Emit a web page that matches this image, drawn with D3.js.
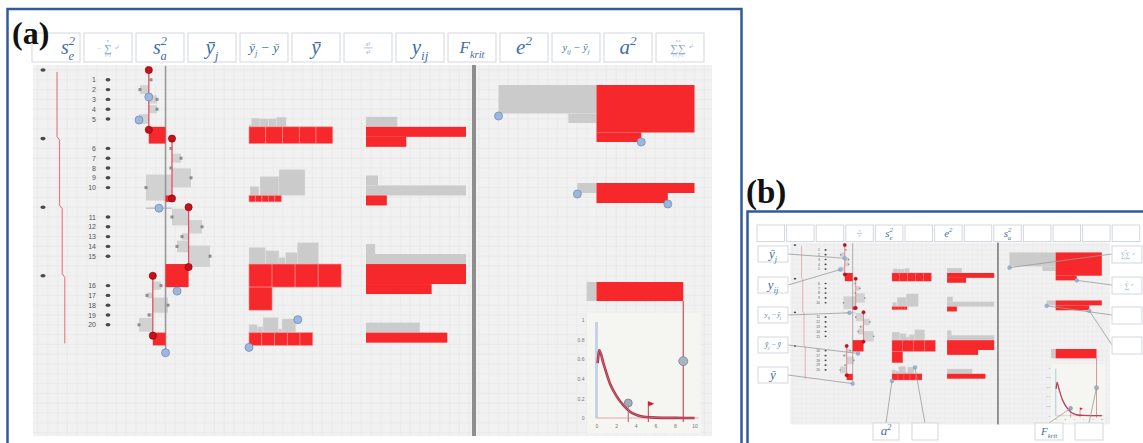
<!DOCTYPE html>
<html><head><meta charset="utf-8">
<script src="https://cdn.jsdelivr.net/npm/d3@7"></script>
<style>body{margin:0;background:#fff}svg{display:block}</style>
</head><body>
<svg id="c" width="1143" height="443"></svg>
<script>
// ---------------- data ----------------
const headerA = ["se2","sum1","sa2","ybarj","ybarjmybar","ybar","frac","yij","fkrit","e2","yijmybarj","a2","sumsum"];
const headerB = ["","","","frac","se2","","e2","","sa2","","","",""];
const sideLeftB = ["ybarj","yij","yijmybarj","ybarjmybar","ybar"];
const sideRightB = ["sumsum","sum1","",""];
const bottomB = ["a2","","fkrit",""];
const itemLabels = ["1","2","3","4","5","6","7","8","9","10","11","12","13","14","15","16","17","18","19","20"];
const obsG1 = [43, 37.5, 46, 46, 37];
const obsG2 = [53, 58, 53, 63, 40.5];
const obsG3 = [53.5, 68.5, 58.5, 56, 72.5];
const obsG4 = [48, 41, 51.5, 42, 37];
const fTicksX = [0, 2, 4, 6, 8, 10];
const fTicksY = [0, 0.2, 0.4, 0.6, 0.8, 1];
const fCurveX = [0.12, 0.29, 0.7, 1.38, 2.06, 2.74, 3.42, 4.1, 4.78, 6, 8, 10];
const fCurveY = [0.56, 0.69, 0.56, 0.35, 0.22, 0.13, 0.064, 0.03, 0.013, 0.004, 0.001, 0];
const fCrit05 = 3.24, fCrit01 = 5.29;
const fHandleY = 0.58, fCritMarkY = 0.153, fFlagY = 0.17;

// ---------------- styles ----------------
const SERIF = "'Liberation Serif','DejaVu Serif',serif";
const SANS = "'Liberation Sans','DejaVu Sans',sans-serif";
const RED = "#f7282b", REDLINE = "#e4505e", GRAY = "#cbcbcb", DOT = "#c8101c";
const LBLC = "#3f6ea8", LBLC2 = "#7fa0c8", BORDER = "#2f5b9a", BOXS = "#d3d8df";

const svg = d3.select("#c");

// ---------------- scales & derived ----------------
const xL = d3.scaleLinear().domain([0, 100]).range([65, 265]);
const yL = d3.scaleLinear().domain([0, 28]).range([70, 344.4]);
const xF = d3.scaleLinear().domain([0, 10]).range([596.5, 694.5]);
const yF = d3.scaleLinear().domain([0, 1]).range([418, 320]);

const obs = [obsG1, obsG2, obsG3, obsG4];
const grand = d3.mean(obs.flat());
const gx = xL(grand);
const groups = obs.map((vals, j) => {
  const m = d3.mean(vals), xm = xL(m);
  const items = vals.map((v, i) => ({v, i, n: j * 5 + i, y: yL(7 * j + 1 + i), x: xL(v), s: Math.abs(xL(v) - xm)}));
  const d = Math.abs(xm - gx);
  return {j, xm, top: yL(7 * j), base: yL(7 * j + 5.8), items, d, n: vals.length,
    ssE: d3.sum(items, it => it.s * it.s), ssA: vals.length * d * d};
});
const SSA = d3.sum(groups, g => g.ssA), SSE = d3.sum(groups, g => g.ssE);
const dfA = groups.length - 1, dfE = obs.flat().length - groups.length;
const MSA = SSA / dfA, MSE = SSE / dfE, Fval = MSA / MSE;

function wrapRects(area, x0, y0, W, H, dx, dy) {
  const full = Math.floor(area / (W * H));
  const rem = area - full * W * H;
  const out = [];
  if (full > 0) out.push({x: dx > 0 ? x0 : x0 - W, y: dy > 0 ? y0 : y0 - full * H, w: W, h: full * H});
  if (rem > 0.5) { const rw = rem / H; out.push({x: dx > 0 ? x0 : x0 - rw, y: dy > 0 ? y0 + full * H : y0 - (full + 1) * H, w: rw, h: H}); }
  return out;
}
function rects(g, data, fill, stroke, sw) {
  g.selectAll(null).data(data).join("rect")
    .attr("x", d => d.x).attr("y", d => d.y).attr("width", d => d.w).attr("height", d => d.h)
    .attr("fill", fill).attr("stroke", stroke || "none").attr("stroke-width", sw || 0);
}

// ---------------- labels ----------------
const LBL = {
  se2: [["s","n"],["2","sup"],["e","sub",-0.32]],
  sa2: [["s","n"],["2","sup"],["a","sub",-0.32]],
  ybarj: [["ȳ","n"],["j","sub"]],
  ybarjmybar: [["ȳ","n"],["j","sub"],[" − ȳ","n"]],
  ybar: [["ȳ","n"]],
  yij: [["y","n"],["ij","sub"]],
  fkrit: [["F","n"],["krit","sub"]],
  e2: [["e","n"],["2","sup"]],
  yijmybarj: [["y","n"],["ij","sub"],[" − ȳ","n"],["j","sub"]],
  a2: [["a","n"],["2","sup"]]
};
function txt(g, x, y, s, fs, col, anchor, italic) {
  return g.append("text").attr("x", x).attr("y", y).attr("font-size", fs).attr("fill", col)
    .attr("text-anchor", anchor || "middle").attr("font-family", SERIF)
    .attr("font-style", italic === false ? "normal" : "italic").text(s);
}
function drawLabel(g, id, cx, cy, fs) {
  if (!id) return;
  if (id === "sum1") {
    txt(g, cx, cy + 0.22 * fs, "∑", 0.55 * fs, LBLC2, "middle", false);
    txt(g, cx, cy - 0.3 * fs, "n", 0.2 * fs, LBLC2);
    txt(g, cx, cy + 0.45 * fs, "i=1", 0.2 * fs, LBLC2);
    txt(g, cx - 0.45 * fs, cy + 0.1 * fs, "−", 0.3 * fs, LBLC2);
    txt(g, cx + 0.45 * fs, cy + 0.05 * fs, "e²", 0.25 * fs, LBLC2);
    return;
  }
  if (id === "sumsum") {
    txt(g, cx - 0.1 * fs, cy + 0.22 * fs, "∑∑", 0.55 * fs, LBLC2, "middle", false);
    txt(g, cx - 0.1 * fs, cy - 0.3 * fs, "n  a", 0.18 * fs, LBLC2);
    txt(g, cx - 0.1 * fs, cy + 0.46 * fs, "i=1 j=1", 0.17 * fs, LBLC2);
    txt(g, cx + 0.55 * fs, cy, "e²", 0.25 * fs, LBLC2);
    return;
  }
  if (id === "frac") {
    txt(g, cx, cy - 0.08 * fs, "s²", 0.3 * fs, LBLC2);
    g.append("line").attr("x1", cx - 0.22 * fs).attr("x2", cx + 0.22 * fs).attr("y1", cy + 0.02 * fs).attr("y2", cy + 0.02 * fs)
      .attr("stroke", LBLC2).attr("stroke-width", 0.6);
    txt(g, cx, cy + 0.3 * fs, "s²", 0.3 * fs, LBLC2);
    return;
  }
  const t = g.append("text").attr("x", cx).attr("y", cy + fs * 0.3).attr("text-anchor", "middle")
    .attr("font-family", SERIF).attr("font-style", "italic").attr("font-size", fs).attr("fill", LBLC);
  let cur = 0;
  LBL[id].forEach(([s, kind, dxEm]) => {
    const target = kind === "sub" ? 0.3 * fs : kind === "sup" ? -0.42 * fs : 0;
    const ts = t.append("tspan").text(s).attr("dy", target - cur);
    if (kind !== "n") ts.attr("font-size", fs * 0.62);
    if (dxEm) ts.attr("dx", dxEm * fs);
    cur = target;
  });
}
function box(g, x, y, w, h, id, fs, shift) {
  g.append("rect").attr("x", x).attr("y", y).attr("width", w).attr("height", h)
    .attr("fill", "#fff").attr("stroke", BOXS).attr("stroke-width", 1);
  drawLabel(g, id, x + w / 2 + (shift || 0), y + h / 2, fs);
}
const LBLSIZE = {se2: 20, sa2: 20, ybarj: 21, ybarjmybar: 13.5, ybar: 21, yij: 21, fkrit: 17, e2: 21, yijmybarj: 10.5, a2: 21, sum1: 20, sumsum: 20, frac: 20};

// ---------------- main content (panel a coordinates) ----------------
function handle(g, x, y, r) {
  g.append("circle").attr("cx", x).attr("cy", y).attr("r", r || 4)
    .attr("fill", "#9db8dc").attr("stroke", "#6f8fbf").attr("stroke-width", 0.8);
}
function drawContent(g) {
  g.append("rect").attr("x", 33).attr("y", 65).attr("width", 679).attr("height", 371).attr("fill", "#f1f1f1");
  const grid = g.append("g").attr("stroke", "#e6e6e6").attr("stroke-width", 0.6);
  grid.selectAll(null).data(d3.range(38, 712, 9.8)).join("line")
    .attr("x1", d => d).attr("x2", d => d).attr("y1", 65).attr("y2", 436);
  grid.selectAll(null).data(d3.range(70, 436, 9.8)).join("line")
    .attr("x1", 33).attr("x2", 712).attr("y1", d => d).attr("y2", d => d);
  g.append("rect").attr("x", 472).attr("y", 65).attr("width", 4).attr("height", 371).attr("fill", "#8e8e8e");

  // left structure
  g.selectAll(null).data(groups).join("ellipse").attr("cx", 43).attr("cy", d => d.top)
    .attr("rx", 2.6).attr("ry", 1.8).attr("fill", "#4a4a4a");
  const bpts = [];
  groups.forEach((gr, j) => {
    const x = 57 + 2.6 * j;
    bpts.push([x, j === 0 ? yL(0) + 2 : yL(7 * j) + 1.5]);
    bpts.push([x, j === 3 ? yL(27.9) : yL(7 * j + 6.8)]);
  });
  g.append("path").attr("d", d3.line()(bpts)).attr("fill", "none").attr("stroke", "#e36a78").attr("stroke-width", 1);
  const allItems = groups.flatMap(gr => gr.items);
  g.selectAll(null).data(allItems).join("text").attr("x", 96).attr("y", d => d.y + 2.5)
    .attr("text-anchor", "end").attr("font-family", SANS).attr("font-size", 7).attr("fill", "#555")
    .text(d => itemLabels[d.n]);
  g.selectAll(null).data(allItems).join("ellipse").attr("cx", 108).attr("cy", d => d.y)
    .attr("rx", 2.4).attr("ry", 1.7).attr("fill", "#4a4a4a");

  // deviation squares (gray)
  g.selectAll(null).data(allItems).join("rect")
    .attr("x", d => Math.min(d.x, groups[Math.floor(d.n / 5)].xm)).attr("y", d => d.y - d.s / 2)
    .attr("width", d => d.s).attr("height", d => d.s).attr("fill", GRAY).attr("opacity", 0.8);
  const g2 = groups[1];
  g.append("line").attr("x1", g2.items[4].x).attr("x2", g2.xm).attr("y1", yL(14.1)).attr("y2", yL(14.1))
    .attr("stroke", "#c4c4c4").attr("stroke-width", 1.5);
  // grand mean line
  g.append("line").attr("x1", gx).attr("x2", gx).attr("y1", yL(-0.4)).attr("y2", yL(28.85))
    .attr("stroke", "#9a9a9a").attr("stroke-width", 1.6);
  // group mean squares (red)
  g.selectAll(null).data(groups).join("rect")
    .attr("x", d => Math.min(d.xm, gx)).attr("y", d => d.base).attr("width", d => d.d).attr("height", d => d.d).attr("fill", RED);
  g.selectAll(null).data(groups).join("line")
    .attr("x1", d => d.xm).attr("x2", d => d.xm).attr("y1", d => d.top).attr("y2", d => d.base)
    .attr("stroke", REDLINE).attr("stroke-width", 1.3);
  g.selectAll(null).data(allItems).join("rect")
    .attr("x", d => d.x - 1.5).attr("y", d => d.y - 1.5).attr("width", 3).attr("height", 3).attr("fill", "#8d8d8d");
  const dots = groups.flatMap(d => [[d.xm, d.top], [d.xm, d.base + 3]]);
  g.selectAll(null).data(dots).join("circle").attr("cx", d => d[0]).attr("cy", d => d[1]).attr("r", 3.6)
    .attr("fill", DOT).attr("stroke", "#7a0000").attr("stroke-width", 0.6);

  // column 2: squares
  const c2 = 249;
  groups.forEach(gr => {
    let cum = 0;
    const gs = gr.items.map(it => { const r = {x: c2 + cum, y: gr.base - it.s, w: it.s, h: it.s}; cum += it.s; return r; });
    rects(g, gs, GRAY, "#e6e6e6", 0.4);
    const per = Math.max(1, Math.floor(100 / gr.d));
    const rs = d3.range(gr.n).map(k => ({x: c2 + (k % per) * gr.d, y: gr.base + Math.floor(k / per) * gr.d, w: gr.d, h: gr.d}));
    rects(g, rs, RED, "#ff8f8f", 0.6);
    gr.c2w = cum;
  });
  // column 3: bars
  const c3 = 366;
  groups.forEach(gr => {
    rects(g, wrapRects(gr.ssE, c3, gr.base, 100, 10, 1, -1), GRAY);
    rects(g, wrapRects(gr.ssA, c3, gr.base, 100, 10, 1, 1), RED);
  });

  // right section
  const x0 = xF(0), W = xF(10) - xF(0);
  const tg = wrapRects(SSE, x0, 85, W, 9.5, -1, 1), tr = wrapRects(SSA, x0, 85, W, 9.5, 1, 1);
  rects(g, tg, GRAY); rects(g, tr, RED);
  const mg = wrapRects(MSE, x0, 183, W, 10, -1, 1), mr = wrapRects(MSA, x0, 183, W, 10, 1, 1);
  rects(g, mg, GRAY); rects(g, mr, RED);
  rects(g, [{x: xF(-1), y: 282, w: xF(0) - xF(-1), h: 19}], GRAY);
  rects(g, [{x: xF(0), y: 282, w: xF(Fval) - xF(0), h: 19}], RED);

  // F chart
  g.append("rect").attr("x", 587).attr("y", 313).attr("width", 114).attr("height", 120).attr("fill", "#f5f5f1");
  const ay = g.append("g").attr("transform", `translate(${xF(0) - 8},0)`)
    .call(d3.axisLeft(yF).tickValues(fTicksY).tickSize(0).tickPadding(4).tickFormat(d3.format("")));
  const ax = g.append("g").attr("transform", `translate(0,${yF(0) + 3})`)
    .call(d3.axisBottom(xF).tickValues(fTicksX).tickSize(0).tickPadding(3));
  [ay, ax].forEach(a => { a.select(".domain").remove(); a.selectAll("text").attr("font-size", 5).attr("fill", "#777").attr("font-family", SANS); });
  g.append("line").attr("x1", xF(0)).attr("x2", xF(0)).attr("y1", yF(0)).attr("y2", yF(0.98))
    .attr("stroke", "#c5d3ea").attr("stroke-width", 3);
  g.append("line").attr("x1", xF(0)).attr("x2", xF(10.4)).attr("y1", yF(0)).attr("y2", yF(0))
    .attr("stroke", "#e5a9b2").attr("stroke-width", 1);
  const cpts = fCurveX.map((x, i) => [xF(x), yF(fCurveY[i])]);
  g.append("path").attr("d", d3.line().curve(d3.curveMonotoneX)(cpts)).attr("fill", "none")
    .attr("stroke", "#a8324a").attr("stroke-width", 2.6);
  g.append("path").attr("d", d3.line().curve(d3.curveMonotoneX)(cpts)).attr("fill", "none")
    .attr("stroke", "#e0707f").attr("stroke-width", 0.7);
  g.append("line").attr("x1", xF(fCrit05)).attr("x2", xF(fCrit05)).attr("y1", yF(fCritMarkY)).attr("y2", yF(0) + 4)
    .attr("stroke", "#b56070").attr("stroke-width", 1);
  g.append("circle").attr("cx", xF(fCrit05)).attr("cy", yF(fCritMarkY)).attr("r", 4)
    .attr("fill", "#a3abba").attr("stroke", "#7d8390").attr("stroke-width", 0.8);
  g.append("line").attr("x1", xF(fCrit01)).attr("x2", xF(fCrit01)).attr("y1", yF(fFlagY)).attr("y2", yF(0) + 4)
    .attr("stroke", "#c04050").attr("stroke-width", 1);
  const fx = xF(fCrit01), fy = yF(fFlagY);
  g.append("path").attr("d", `M${fx},${fy}L${fx + 6},${fy + 2.5}L${fx},${fy + 5}Z`).attr("fill", "#e0102a");
  g.append("line").attr("x1", xF(Fval)).attr("x2", xF(Fval)).attr("y1", 301).attr("y2", yF(0) + 4)
    .attr("stroke", "#c8404f").attr("stroke-width", 1.1);
  g.append("circle").attr("cx", xF(Fval)).attr("cy", yF(fHandleY)).attr("r", 4.5)
    .attr("fill", "#a9b3c4").attr("stroke", "#7a8594").attr("stroke-width", 0.8);

  // handles
  const H = {
    g1: [groups[0].xm, yL(2.75)],
    o5: [groups[0].items[4].x, yL(5.1)],
    g2: [(g2.items[4].x + g2.xm) / 2, yL(14.1)],
    g3: [(groups[2].xm + gx) / 2, groups[2].base + groups[2].d + 4],
    grand: [gx, yL(28.85)],
    c2a: [249, groups[3].base + groups[3].d + 2],
    c2b: [249 + groups[3].c2w + 2, groups[3].base - 13],
    topG: [tg[0].x, tg[0].y + tg[0].h + 2.5],
    topR: [tr[tr.length - 1].x + tr[tr.length - 1].w, tr[tr.length - 1].y + tr[tr.length - 1].h],
    midG: [mg[0].x, mg[0].y + mg[0].h + 1],
    midR: [mr[mr.length - 1].x + mr[mr.length - 1].w, mr[mr.length - 1].y + mr[mr.length - 1].h + 1],
    fcrit: [xF(fCrit05), yF(fCritMarkY)]
  };
  ["g1","o5","g2","g3","grand","c2a","c2b","topG","topR","midG","midR"].forEach(k => handle(g, H[k][0], H[k][1]));
  return H;
}

// ---------------- panel (a) ----------------
const pa = svg.append("g");
const HA = drawContent(pa.append("g"));
headerA.forEach((id, i) => box(pa, 32 + i * 52, 33, 48, 29, id, LBLSIZE[id], i === 0 ? 12 : 0));
pa.append("rect").attr("x", 7.5).attr("y", 9).attr("width", 734).attr("height", 440)
  .attr("fill", "none").attr("stroke", BORDER).attr("stroke-width", 2.5);
pa.append("text").attr("x", 12).attr("y", 44).attr("font-family", SERIF).attr("font-weight", "bold")
  .attr("font-size", 32).attr("fill", "#111").text("(a)");

// ---------------- panel (b) ----------------
const pb = svg.append("g");
const T = {tx: 774.7, ty: 210.8, sx: 0.471, sy: 0.49};
const tb = p => [T.tx + T.sx * p[0], T.ty + T.sy * p[1]];
drawContent(pb.append("g").attr("transform", `translate(${T.tx},${T.ty}) scale(${T.sx},${T.sy})`));
headerB.forEach((id, i) => box(pb, 757 + i * 29.6, 225, 27.5, 16.5, id, 11));
const leftY = [246, 277, 307, 337, 367];
const lsz = {ybarj: 13, yij: 13, yijmybarj: 6.3, ybarjmybar: 7.2, ybar: 13};
const calloutsL = [HA.g1, HA.o5, HA.g2, HA.g3, HA.grand];
const cl = pb.append("g").attr("stroke", "#9a9a9a").attr("stroke-width", 0.8);
calloutsL.forEach((p, i) => { const q = tb(p); cl.append("line").attr("x1", 788).attr("y1", leftY[i] + 8).attr("x2", q[0]).attr("y2", q[1]); });
const rightY = [246, 277, 307, 337];
[HA.topG, HA.topR, HA.midG, HA.midR].forEach((p, i) => { const q = tb(p); cl.append("line").attr("x1", 1112).attr("y1", rightY[i] + 8).attr("x2", q[0]).attr("y2", q[1]); });
const bottomX = [873, 912, 1035, 1075], bottomW = [26, 26, 28, 28];
[HA.c2a, HA.c2b, HA.fcrit, [xF(Fval), yF(fHandleY)]].forEach((p, i) => { const q = tb(p); cl.append("line").attr("x1", bottomX[i] + bottomW[i] / 2).attr("y1", 423).attr("x2", q[0]).attr("y2", q[1]); });
sideLeftB.forEach((id, i) => box(pb, 758, leftY[i], 30, 16, id, lsz[id]));
sideRightB.forEach((id, i) => box(pb, 1112, rightY[i], 30, 17, id, 12));
bottomB.forEach((id, i) => box(pb, bottomX[i], 423, bottomW[i], 17, id, id === "fkrit" ? 11 : 13));
pb.append("rect").attr("x", 747.5).attr("y", 211.5).attr("width", 400).attr("height", 240)
  .attr("fill", "none").attr("stroke", BORDER).attr("stroke-width", 2.5);
pb.append("text").attr("x", 746).attr("y", 203).attr("font-family", SERIF).attr("font-weight", "bold")
  .attr("font-size", 33).attr("fill", "#111").text("(b)");
</script>
</body></html>
